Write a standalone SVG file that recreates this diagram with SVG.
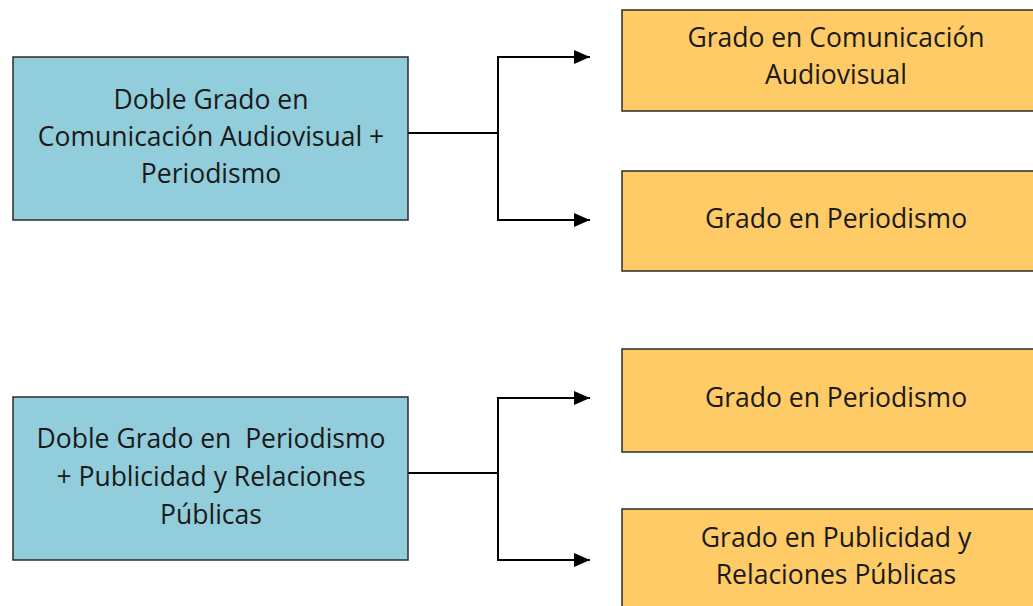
<svg xmlns="http://www.w3.org/2000/svg" width="1033" height="606" viewBox="0 0 1033 606">
<style>
.blue{fill:#92CDDC;stroke:#2b2b2b;stroke-width:1.5}
.orange{fill:#FECB66;stroke:#2b2b2b;stroke-width:1.5}
.t{font-family:"Open Sans","Liberation Sans",sans-serif;font-size:26.5px;fill:#1a1a1a;text-anchor:middle}
.c{fill:none;stroke:#000;stroke-width:2}
</style>
<defs>
<marker id="arr" markerWidth="16" markerHeight="14" refX="16" refY="7" orient="auto" markerUnits="userSpaceOnUse">
<path d="M0,0 L16,7 L0,14 Z" fill="#000"/>
</marker>
</defs>
<rect width="1033" height="606" fill="#fff"/>
<g id="connectors">
<path class="c" d="M408,133 H498"/>
<path class="c" d="M498,57 V220"/>
<path class="c" d="M497,57 H590" marker-end="url(#arr)"/>
<path class="c" d="M497,220 H590" marker-end="url(#arr)"/>
<path class="c" d="M408,473 H498"/>
<path class="c" d="M498,398 V560"/>
<path class="c" d="M497,398 H590" marker-end="url(#arr)"/>
<path class="c" d="M497,560 H590" marker-end="url(#arr)"/>
</g>
<g id="n1">
<rect class="blue" x="13" y="57" width="395" height="163"/>
<text class="t" x="211" y="109">Doble Grado en</text>
<text class="t" x="211" y="146">Comunicación Audiovisual +</text>
<text class="t" x="211" y="183">Periodismo</text>
</g>
<g id="n2">
<rect class="orange" x="622" y="10" width="430" height="101"/>
<text class="t" x="836" y="47">Grado en Comunicación</text>
<text class="t" x="836" y="84">Audiovisual</text>
</g>
<g id="n3">
<rect class="orange" x="622" y="171" width="430" height="100"/>
<text class="t" x="836" y="228">Grado en Periodismo</text>
</g>
<g id="n4">
<rect class="blue" x="13" y="397" width="395" height="163"/>
<text class="t" x="211" y="448" xml:space="preserve">Doble Grado en  Periodismo</text>
<text class="t" x="211" y="486">+ Publicidad y Relaciones</text>
<text class="t" x="211" y="524">Públicas</text>
</g>
<g id="n5">
<rect class="orange" x="622" y="349" width="430" height="103"/>
<text class="t" x="836" y="407">Grado en Periodismo</text>
</g>
<g id="n6">
<rect class="orange" x="622" y="509" width="430" height="110"/>
<text class="t" x="836" y="547">Grado en Publicidad y</text>
<text class="t" x="836" y="584">Relaciones Públicas</text>
</g>
</svg>
